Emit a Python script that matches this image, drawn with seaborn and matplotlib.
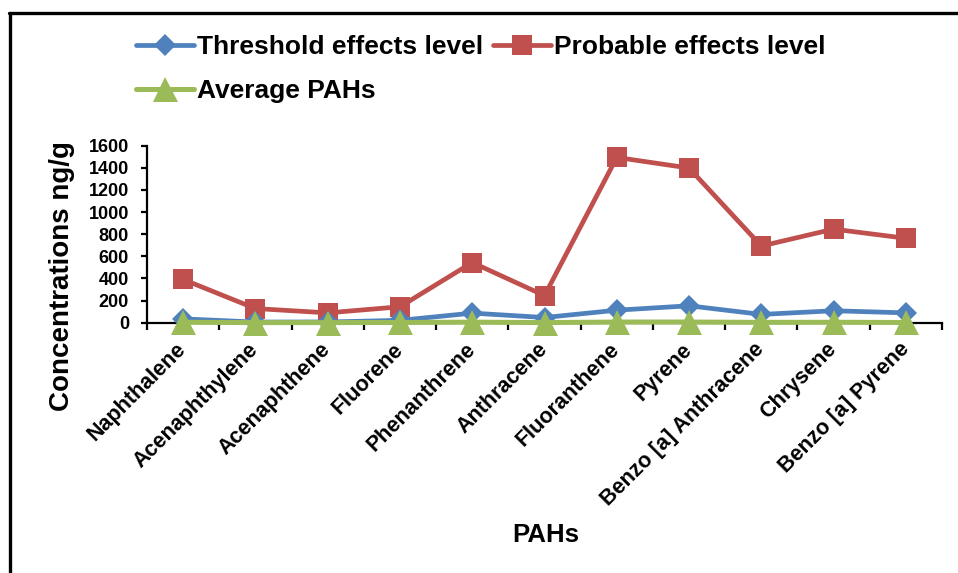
import matplotlib
matplotlib.use("Agg")
import matplotlib.pyplot as plt
import seaborn as sns
import pandas as pd
from matplotlib.lines import Line2D

categories = ["Naphthalene", "Acenaphthylene", "Acenaphthene", "Fluorene",
              "Phenanthrene", "Anthracene", "Fluoranthene", "Pyrene",
              "Benzo [a] Anthracene", "Chrysene", "Benzo [a] Pyrene"]
threshold = [34.6, 5.87, 6.71, 21.2, 86.7, 46.9, 113, 153, 74.8, 108, 88.8]
probable = [391, 128, 88.9, 144, 544, 245, 1494, 1398, 693, 846, 763]
average = [4, 1, 1, 2, 5, 1, 6, 6, 3, 4, 2]
yticks = [0, 200, 400, 600, 800, 1000, 1200, 1400, 1600]

sns.set_theme(style="white")
plt.rcParams['font.family'] = ['Liberation Sans', 'DejaVu Sans']
plt.rcParams['font.weight'] = 'bold'
for k in ['text.color', 'axes.labelcolor', 'xtick.color', 'ytick.color']:
    plt.rcParams[k] = 'black'

fig = plt.figure(figsize=(9.58, 5.73), dpi=100)
ax = fig.add_axes([147/958, 1-322.7/573, (942-147)/958, (322.7-145.7)/573])

pos = list(range(len(categories)))
df = pd.DataFrame({"pos": pos, "TEL": threshold, "PEL": probable, "AVG": average})

sns.lineplot(data=df, x="pos", y="TEL", ax=ax, color="#4F81BD", lw=3.4,
             marker="D", markersize=11, markeredgewidth=0, sort=False,
             label="Threshold effects level", clip_on=False, zorder=3)
sns.lineplot(data=df, x="pos", y="PEL", ax=ax, color="#C0504D", lw=3.4,
             marker="s", markersize=14, markeredgewidth=0, sort=False,
             label="Probable effects level", clip_on=False, zorder=2)
sns.lineplot(data=df, x="pos", y="AVG", ax=ax, color="#9BBB59", lw=3.6,
             marker="^", markersize=18, markeredgewidth=0, sort=False,
             label="Average PAHs", clip_on=False, zorder=4)

ax.set_xlim(-0.5, len(categories) - 0.5)
ax.set_ylim(0, 1600)
ax.set_yticks(yticks)
ax.set_yticklabels([str(v) for v in yticks], fontsize=13, fontweight='bold')
ax.set_xticks(pos)
ax.set_xticklabels(categories, rotation=45, ha='right', va='center',
                   rotation_mode='anchor', fontsize=15.5, fontweight='bold')
ax.set_xticks([p - 0.5 for p in pos] + [len(categories) - 0.5], minor=True)
ax.tick_params(axis='x', which='major', length=0, pad=17)
ax.tick_params(axis='x', which='minor', length=5, width=1.6, color='black',
               direction='out', bottom=True)
ax.tick_params(axis='y', which='major', length=4, width=1.6, color='black',
               direction='out', left=True, pad=9)
for s in ['top', 'right']:
    ax.spines[s].set_visible(False)
for s in ['left', 'bottom']:
    ax.spines[s].set_color('black')
    ax.spines[s].set_linewidth(1.6)
    ax.spines[s].set_zorder(1)
ax.grid(False)
ax.set_xlabel("")
ax.set_ylabel("")

fig.text(62/958, 1-276/573, "Concentrations ng/g", rotation=90, fontsize=20,
         fontweight='bold', ha='center', va='center')
fig.text(546/958, 1-535/573, "PAHs", fontsize=18.5, fontweight='bold',
         ha='center', va='center')

handles, labels = ax.get_legend_handles_labels()
ax.get_legend().remove()
order = [0, 2, 1]
fig.legend([handles[i] for i in order], [labels[i] for i in order],
           ncol=2, loc='upper left', bbox_to_anchor=(136/958, 1-35/573),
           frameon=False, prop={'weight': 'bold', 'size': 19},
           handlelength=2.2, handletextpad=0.1, columnspacing=0.4,
           labelspacing=0.75, borderpad=0, borderaxespad=0)

# outer frame (top and left edges visible)
fig.add_artist(Line2D([9/958, 1], [1-13/573, 1-13/573], transform=fig.transFigure,
                      color='black', lw=2.4))
fig.add_artist(Line2D([10/958, 10/958], [0, 1-13/573], transform=fig.transFigure,
                      color='black', lw=2.4))

fig.savefig("out.png", dpi=100)
